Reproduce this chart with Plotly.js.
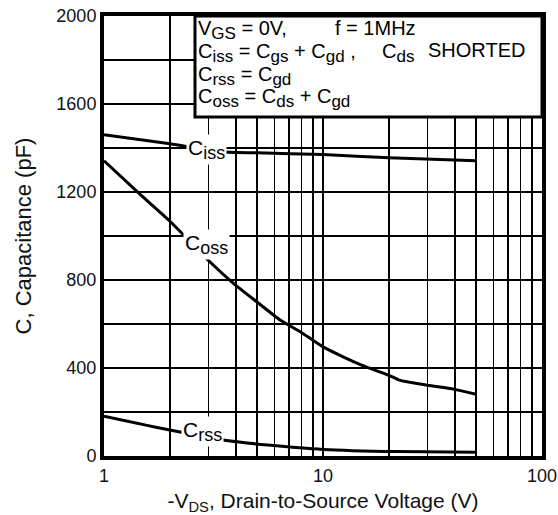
<!DOCTYPE html>
<html><head><meta charset="utf-8">
<script src="https://cdn.plot.ly/plotly-3.0.1.min.js"></script>
<style>html,body{margin:0;padding:0;background:#fff}#chart{width:558px;height:515px}</style>
</head><body><div id="chart"></div>
<script>
const vdsCiss = [1, 2, 3.4, 5, 10, 20, 50];
const ciss    = [1460, 1419, 1383, 1378, 1370, 1356, 1342];
const vdsCoss = [1, 1.5, 2, 3.1, 3.9, 5, 6.4, 7.9, 10, 15, 20, 22.3, 30, 39.5, 50];
const coss    = [1342, 1179, 1067, 875, 785, 700, 617, 564, 496, 413, 367, 345, 322, 304, 281];
const vdsCrss = [1, 2, 3.7, 5.6, 10, 22, 50];
const crss    = [181, 118, 69, 50, 30, 20, 17];
const xTicks = [1, 10, 100];
const yTicks = [0, 400, 800, 1200, 1600, 2000];
const curveLabels = [
  {c0: 'C', sub: 'iss', v: 2.93, c: 1393},
  {c0: 'C', sub: 'oss', v: 2.93, c: 960},
  {c0: 'C', sub: 'rss', v: 2.81, c: 110}
];

const FONT = 'Liberation Sans, Arial, Helvetica, sans-serif';
function sb(t, size) { return '<sub><span style="font-size:' + size + 'px">' + t + '</span></sub>'; }

const lineStyle = {color: '#000', width: 3, shape: 'spline', smoothing: 0.6};
const traces = [
  {x: vdsCiss, y: ciss, mode: 'lines', line: lineStyle, name: 'Ciss'},
  {x: vdsCoss, y: coss, mode: 'lines', line: lineStyle, name: 'Coss'},
  {x: vdsCrss, y: crss, mode: 'lines', line: lineStyle, name: 'Crss'}
];

const annotations = curveLabels.map(l => ({
  x: Math.log10(l.v), y: l.c, xref: 'x', yref: 'y', text: l.c0 + sb(l.sub, 18), showarrow: false,
  bgcolor: '#fff', borderpad: 1, font: {family: FONT, size: 21, color: '#000'}
}));

function px2p(xp) { return (xp - 104) / 438; }
function py2p(yp) { return (456 - yp) / 440; }
const boxFont = {family: FONT, size: 20, color: '#000'};
const S = 17;
const boxLines = [
  {t: 'V' + sb('GS', S) + ' = 0V,', x: 197, y: 30},
  {t: 'f = 1MHz', x: 334, y: 28},
  {t: 'C' + sb('iss', S) + ' = C' + sb('gs', S) + ' + C' + sb('gd', S) + ' ,', x: 197, y: 53},
  {t: 'C' + sb('ds', S), x: 381, y: 53},
  {t: 'SHORTED', x: 427, y: 50},
  {t: 'C' + sb('rss', S) + ' = C' + sb('gd', S), x: 197, y: 76},
  {t: 'C' + sb('oss', S) + ' = C' + sb('ds', S) + ' + C' + sb('gd', S), x: 197, y: 98}
];
boxLines.forEach(b => annotations.push({
  x: px2p(b.x), y: py2p(b.y), xref: 'paper', yref: 'paper', xanchor: 'left', yanchor: 'middle',
  text: b.t, showarrow: false, font: boxFont, borderpad: 0
}));

const layout = {
  width: 558, height: 515,
  margin: {l: 104, r: 16, t: 16, b: 59},
  paper_bgcolor: '#fff', plot_bgcolor: '#fff',
  showlegend: false,
  font: {family: FONT, color: '#111'},
  xaxis: {
    type: 'log', range: [0, 2], tickvals: xTicks, ticktext: xTicks.map(String),
    ticks: '', showgrid: true, gridcolor: '#000', gridwidth: 2.5,
    minor: {dtick: 'D1', showgrid: true, gridcolor: '#000', gridwidth: 1.3, ticks: ''},
    showline: true, linecolor: '#000', linewidth: 4, mirror: true, zeroline: false,
    tickfont: {family: FONT, size: 18, color: '#111'},
    title: {text: '-V<sub>DS</sub>, Drain-to-Source Voltage (V)', font: {family: FONT, size: 21, color: '#111'}, standoff: 12}
  },
  yaxis: {
    range: [0, 2000], tickvals: yTicks, ticks: '', showgrid: true, gridcolor: '#000', gridwidth: 2.5,
    minor: {dtick: 200, showgrid: true, gridcolor: '#000', gridwidth: 1.3, ticks: ''},
    showline: true, linecolor: '#000', linewidth: 4, mirror: true, zeroline: false,
    tickfont: {family: FONT, size: 18, color: '#111'},
    title: {text: 'C, Capacitance (pF)', font: {family: FONT, size: 22, color: '#111'}, standoff: 20}
  },
  shapes: [{
    type: 'rect', xref: 'paper', yref: 'paper', x0: px2p(195), x1: 1, y0: py2p(117), y1: 1,
    fillcolor: '#fff', line: {color: '#000', width: 3}, layer: 'above'
  }],
  annotations: annotations
};
Plotly.newPlot('chart', traces, layout, {staticPlot: true, displayModeBar: false});
</script></body></html>
